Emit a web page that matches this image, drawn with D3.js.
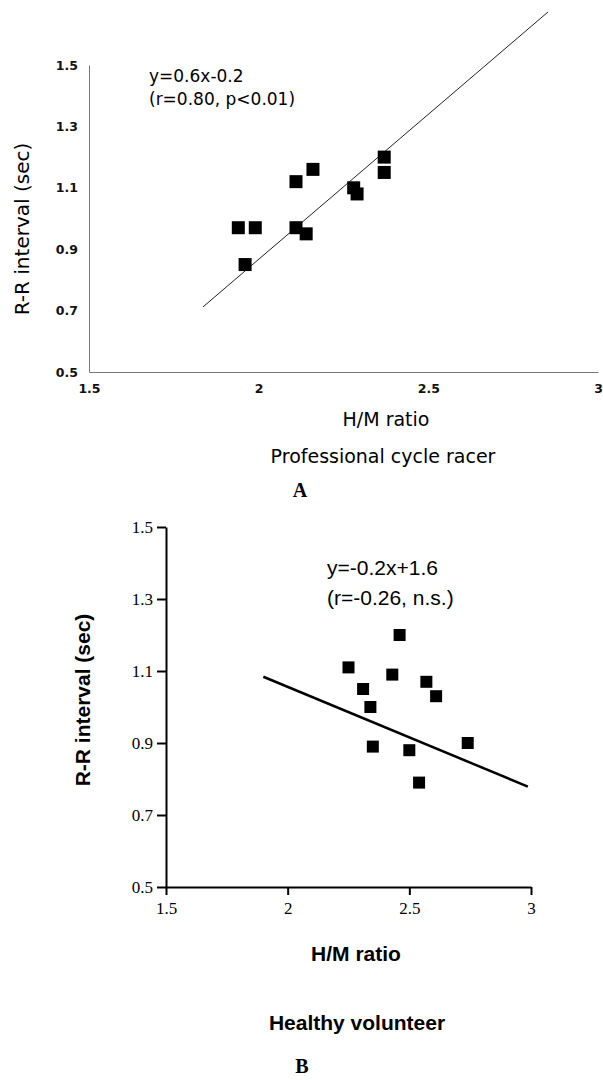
<!DOCTYPE html>
<html>
<head>
<meta charset="utf-8">
<script src="https://cdn.jsdelivr.net/npm/d3@7"></script>
<style>
  body { margin: 0; background: #fff; }
</style>
</head>
<body>
<div id="vis"></div>
<script>
// data
const hmA = [1.94, 1.99, 1.96, 2.11, 2.16, 2.11, 2.14, 2.28, 2.29, 2.37, 2.37]
const rrA = [0.97, 0.97, 0.85, 1.12, 1.16, 0.97, 0.95, 1.10, 1.08, 1.20, 1.15]
const fitAx = [1.836, 2.853]
const fitAy = [0.712, 1.673]

const hmB = [2.46, 2.25, 2.43, 2.57, 2.31, 2.61, 2.34, 2.35, 2.50, 2.74, 2.54]
const rrB = [1.20, 1.11, 1.09, 1.07, 1.05, 1.03, 1.00, 0.89, 0.88, 0.90, 0.79]
const fitBx = [1.9, 2.987]
const fitBy = [1.084, 0.779]

const xTicks = [1.5, 2, 2.5, 3]
const yTicks = [0.5, 0.7, 0.9, 1.1, 1.3, 1.5]

const svg = d3.select("#vis")
    .append("svg")
    .attr("width", 603)
    .attr("height", 1080)

// ---------- panel A ----------
const XA = d3.scaleLinear().domain([1.5, 3]).range([89, 598])
const YA = d3.scaleLinear().domain([0.5, 1.5]).range([372, 65])
const SANS = "DejaVu Sans, Verdana, sans-serif"

const axA_y = svg.append("g")
    .attr("transform", "translate(89,0)")
    .call(d3.axisLeft(YA).tickValues(yTicks).tickSize(0).tickPadding(11).tickFormat(d => String(d)))
axA_y.select(".domain").attr("stroke", "#777")
axA_y.selectAll("text").attr("font-family", SANS).attr("font-size", 12.5).attr("font-weight", "bold").attr("fill", "#111")

const axA_x = svg.append("g")
    .attr("transform", "translate(0,372)")
    .call(d3.axisBottom(XA).tickValues(xTicks).tickSize(0).tickPadding(12).tickFormat(d => String(d)))
axA_x.select(".domain").attr("stroke", "#777")
axA_x.selectAll("text").attr("font-family", SANS).attr("font-size", 12.5).attr("font-weight", "bold").attr("fill", "#111")

svg.append("line")
    .attr("x1", XA(fitAx[0])).attr("y1", YA(fitAy[0]))
    .attr("x2", XA(fitAx[1])).attr("y2", YA(fitAy[1]))
    .attr("stroke", "#222")
    .attr("stroke-width", 1)

svg.selectAll(".ptA")
    .data(hmA.map((h, i) => ({ x: h, y: rrA[i] })))
    .enter()
    .append("rect")
    .attr("class", "ptA")
    .attr("x", d => XA(d.x) - 6.5)
    .attr("y", d => YA(d.y) - 6.5)
    .attr("width", 13)
    .attr("height", 13)
    .attr("fill", "#000")

svg.append("text").attr("x", 149).attr("y", 82)
    .attr("font-family", SANS).attr("font-size", 17).text("y=0.6x-0.2")
svg.append("text").attr("x", 149).attr("y", 105)
    .attr("font-family", SANS).attr("font-size", 17).text("(r=0.80, p<0.01)")

svg.append("text")
    .attr("transform", "translate(29,229) rotate(-90)")
    .attr("text-anchor", "middle")
    .attr("font-family", SANS).attr("font-size", 20)
    .text("R-R interval (sec)")

svg.append("text").attr("x", 386).attr("y", 426).attr("text-anchor", "middle")
    .attr("font-family", SANS).attr("font-size", 19).text("H/M ratio")
svg.append("text").attr("x", 383).attr("y", 463).attr("text-anchor", "middle")
    .attr("font-family", SANS).attr("font-size", 19).text("Professional cycle racer")
svg.append("text").attr("x", 300).attr("y", 497).attr("text-anchor", "middle")
    .attr("font-family", "Liberation Serif, serif").attr("font-weight", "bold").attr("font-size", 20).text("A")

// ---------- panel B ----------
const XB = d3.scaleLinear().domain([1.5, 3]).range([166, 531])
const YB = d3.scaleLinear().domain([0.5, 1.5]).range([887, 527])
const ARIAL = "Liberation Sans, Arial, sans-serif"
const SERIF = "Liberation Serif, Times New Roman, serif"

const axB_y = svg.append("g")
    .attr("transform", "translate(166,0)")
    .call(d3.axisLeft(YB).tickValues(yTicks).tickSize(9).tickSizeOuter(0).tickPadding(4).tickFormat(d => String(d)))
axB_y.selectAll("path, line").attr("stroke", "#000").attr("stroke-width", 2)
axB_y.selectAll("text").attr("font-family", SERIF).attr("font-size", 17).attr("fill", "#000")

const axB_x = svg.append("g")
    .attr("transform", "translate(0,887)")
    .call(d3.axisBottom(XB).tickValues(xTicks).tickSize(8).tickSizeOuter(0).tickPadding(7).tickFormat(d => String(d)))
axB_x.selectAll("path, line").attr("stroke", "#000").attr("stroke-width", 2)
axB_x.selectAll("text").attr("font-family", SERIF).attr("font-size", 17).attr("fill", "#000")

svg.append("line")
    .attr("x1", XB(fitBx[0])).attr("y1", YB(fitBy[0]))
    .attr("x2", XB(fitBx[1])).attr("y2", YB(fitBy[1]))
    .attr("stroke", "#000")
    .attr("stroke-width", 2.5)

svg.selectAll(".ptB")
    .data(hmB.map((h, i) => ({ x: h, y: rrB[i] })))
    .enter()
    .append("rect")
    .attr("class", "ptB")
    .attr("x", d => XB(d.x) - 6)
    .attr("y", d => YB(d.y) - 6)
    .attr("width", 12)
    .attr("height", 12)
    .attr("fill", "#000")

svg.append("text").attr("x", 327).attr("y", 575)
    .attr("font-family", ARIAL).attr("font-size", 21).text("y=-0.2x+1.6")
svg.append("text").attr("x", 327).attr("y", 605)
    .attr("font-family", ARIAL).attr("font-size", 21).text("(r=-0.26, n.s.)")

svg.append("text")
    .attr("transform", "translate(90,700) rotate(-90)")
    .attr("text-anchor", "middle")
    .attr("font-family", ARIAL).attr("font-weight", "bold").attr("font-size", 21)
    .text("R-R interval (sec)")

svg.append("text").attr("x", 356).attr("y", 961).attr("text-anchor", "middle")
    .attr("font-family", ARIAL).attr("font-weight", "bold").attr("font-size", 21).text("H/M ratio")
svg.append("text").attr("x", 357).attr("y", 1030).attr("text-anchor", "middle")
    .attr("font-family", ARIAL).attr("font-weight", "bold").attr("font-size", 21).text("Healthy volunteer")
svg.append("text").attr("x", 302).attr("y", 1073).attr("text-anchor", "middle")
    .attr("font-family", SERIF).attr("font-weight", "bold").attr("font-size", 20).text("B")
</script>
</body>
</html>
